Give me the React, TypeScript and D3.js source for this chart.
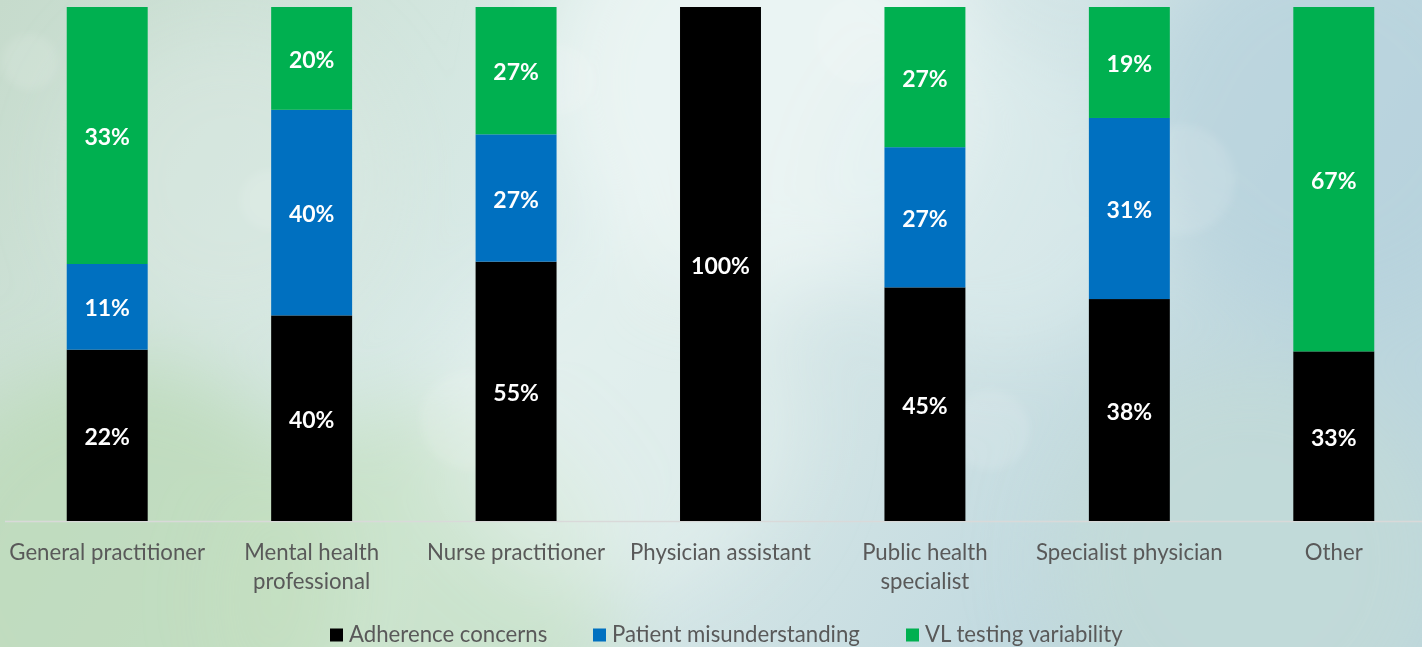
import { useEffect, useRef } from "react";
import * as d3 from "d3";

const categories = [
  ["General practitioner"],
  ["Mental health", "professional"],
  ["Nurse practitioner"],
  ["Physician assistant"],
  ["Public health", "specialist"],
  ["Specialist physician"],
  ["Other"],
];
const adherenceConcerns = [22, 40, 55, 100, 45, 38, 33];
const patientMisunderstanding = [11, 40, 27, 0, 27, 31, 0];
const vlTestingVariability = [33, 20, 27, 0, 27, 19, 67];

const seriesNames = ["Adherence concerns", "Patient misunderstanding", "VL testing variability"];
const seriesColors = ["#000000", "#0070C0", "#00B050"];

const W = 1422;
const H = 647;

export default function App() {
  const svgRef = useRef<SVGSVGElement>(null);

  useEffect(() => {
    const svg = d3.select(svgRef.current);
    svg.selectAll("*").remove();
    svg.attr("width", W).attr("height", H);

    // background: soft blurred bokeh-ish wash
    const defs = svg.append("defs");
    const bg = defs
      .append("linearGradient")
      .attr("id", "bg")
      .attr("x1", "0")
      .attr("y1", "0")
      .attr("x2", "1")
      .attr("y2", "0.3");
    bg.append("stop").attr("offset", "0").attr("stop-color", "#c6dbcc");
    bg.append("stop").attr("offset", "0.3").attr("stop-color", "#d3e6df");
    bg.append("stop").attr("offset", "0.5").attr("stop-color", "#dcecec");
    bg.append("stop").attr("offset", "0.75").attr("stop-color", "#cfe2e4");
    bg.append("stop").attr("offset", "1").attr("stop-color", "#bcd6de");
    const blur = defs.append("filter").attr("id", "blur").attr("x", "-50%").attr("y", "-50%").attr("width", "200%").attr("height", "200%");
    blur.append("feGaussianBlur").attr("stdDeviation", 40);
    const soft = defs.append("filter").attr("id", "soft").attr("x", "-50%").attr("y", "-50%").attr("width", "200%").attr("height", "200%");
    soft.append("feGaussianBlur").attr("stdDeviation", 5);

    svg.append("rect").attr("width", W).attr("height", H).attr("fill", "url(#bg)");
    const washes: [number, number, number, string, number][] = [
      [120, 580, 220, "#bcd9b8", 0.8],
      [420, 600, 200, "#c4dfc0", 0.7],
      [760, 80, 220, "#eef6f5", 0.8],
      [620, 420, 180, "#e6f2ef", 0.6],
      [1000, 200, 160, "#e2eff0", 0.5],
      [1330, 120, 200, "#b6d2dd", 0.7],
      [1250, 560, 200, "#c4dcd6", 0.6],
      [230, 180, 160, "#dbe9e4", 0.5],
    ];
    svg
      .append("g")
      .attr("filter", "url(#blur)")
      .selectAll("circle")
      .data(washes)
      .join("circle")
      .attr("cx", (d) => d[0])
      .attr("cy", (d) => d[1])
      .attr("r", (d) => d[2])
      .attr("fill", (d) => d[3])
      .attr("opacity", (d) => d[4]);
    const bokeh: [number, number, number][] = [
      [30, 62, 28],
      [270, 200, 30],
      [470, 420, 50],
      [860, 40, 45],
      [990, 430, 40],
      [1180, 180, 55],
      [560, 80, 35],
    ];
    svg
      .append("g")
      .attr("filter", "url(#soft)")
      .selectAll("circle")
      .data(bokeh)
      .join("circle")
      .attr("cx", (d) => d[0])
      .attr("cy", (d) => d[1])
      .attr("r", (d) => d[2])
      .attr("fill", "#ffffff")
      .attr("opacity", 0.12);

    const top = 7;
    const base = 521;
    const p = 0.604;
    const x = d3
      .scaleBand<number>()
      .domain(d3.range(categories.length))
      .range([5, 1436])
      .paddingInner(p)
      .paddingOuter(p / 2);
    const y = d3.scaleLinear().domain([0, 1]).range([base, top]);

    const rows = categories.map((_, i) => ({
      i,
      a: adherenceConcerns[i],
      b: patientMisunderstanding[i],
      c: vlTestingVariability[i],
    }));
    const stack = d3
      .stack<any>()
      .keys(["a", "b", "c"])
      .offset(d3.stackOffsetExpand);
    const layers = stack(rows);

    // axis line
    svg
      .append("line")
      .attr("x1", 5)
      .attr("x2", W)
      .attr("y1", base + 0.5)
      .attr("y2", base + 0.5)
      .attr("stroke", "#d9d9d9")
      .attr("stroke-width", 1.5);

    const g = svg.append("g");
    layers.forEach((layer, li) => {
      const lg = g.append("g");
      const segs = layer.filter((d) => d[1] - d[0] > 0);
      lg.selectAll("rect")
        .data(segs)
        .join("rect")
        .attr("x", (d) => x(d.data.i)!)
        .attr("width", x.bandwidth())
        .attr("y", (d) => y(d[1]))
        .attr("height", (d) => y(d[0]) - y(d[1]))
        .attr("fill", seriesColors[li]);
      lg.selectAll("text")
        .data(segs)
        .join("text")
        .attr("x", (d) => x(d.data.i)! + x.bandwidth() / 2)
        .attr("y", (d) => (y(d[0]) + y(d[1])) / 2)
        .attr("dy", "0.42em")
        .attr("text-anchor", "middle")
        .attr("fill", "#ffffff")
        .attr("font-family", "Lato, sans-serif")
        .attr("font-weight", "bold")
        .attr("font-size", 23)
        .text((d) => `${d.data[layer.key as string]}%`);
    });

    // category labels
    const cl = svg.append("g");
    categories.forEach((lines, i) => {
      const t = cl
        .append("text")
        .attr("x", x(i)! + x.bandwidth() / 2)
        .attr("y", 560)
        .attr("text-anchor", "middle")
        .attr("fill", "#595959")
        .attr("font-family", "Lato, sans-serif")
        .attr("font-size", 22.2);
      lines.forEach((ln, k) => {
        t.append("tspan")
          .attr("x", x(i)! + x.bandwidth() / 2)
          .attr("dy", k === 0 ? 0 : 29)
          .text(ln);
      });
    });

    // legend
    const legendX = [330, 593, 906];
    const lgd = svg.append("g");
    seriesNames.forEach((name, i) => {
      lgd
        .append("rect")
        .attr("x", legendX[i])
        .attr("y", 628.5)
        .attr("width", 13)
        .attr("height", 13)
        .attr("fill", seriesColors[i]);
      lgd
        .append("text")
        .attr("x", legendX[i] + 19)
        .attr("y", 642)
        .attr("fill", "#595959")
        .attr("font-family", "Lato, sans-serif")
        .attr("font-size", 22.2)
        .text(name);
    });
  }, []);

  return (
    <svg
      ref={svgRef}
      style={{ position: "absolute", left: 0, top: 0, display: "block" }}
    />
  );
}
